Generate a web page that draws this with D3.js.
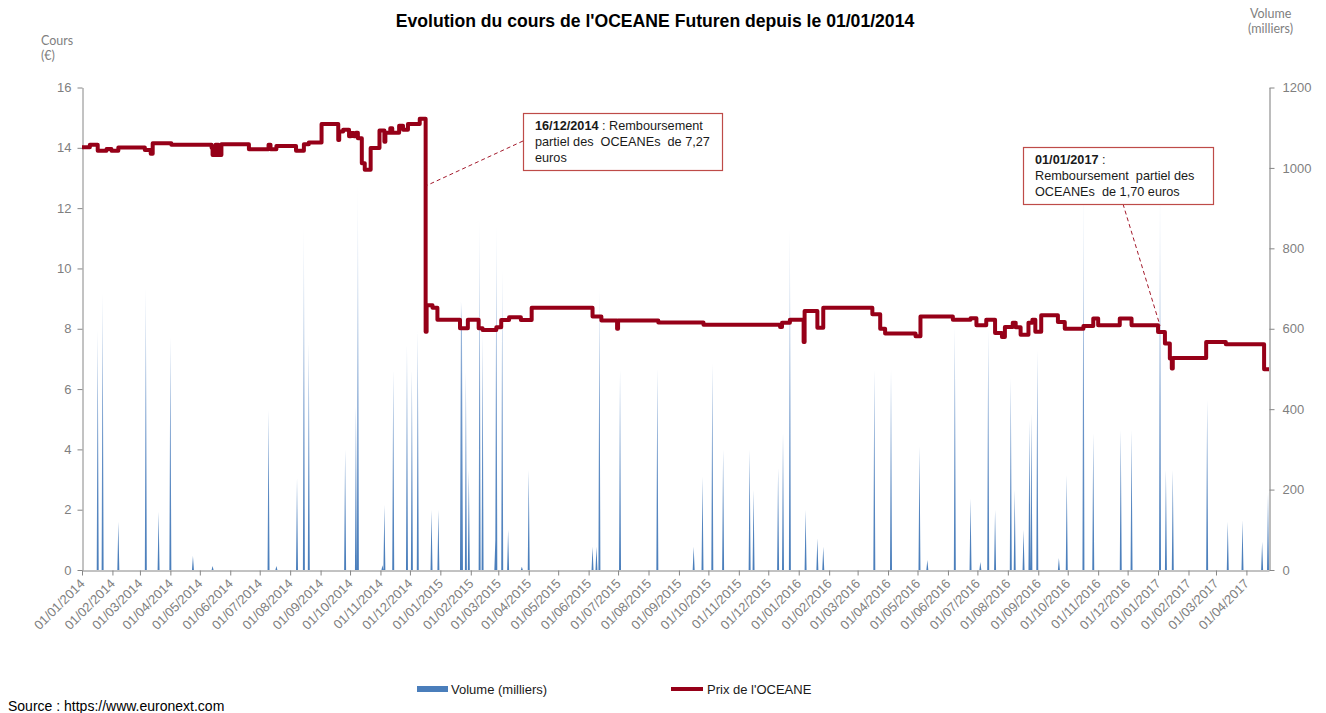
<!DOCTYPE html>
<html>
<head>
<meta charset="utf-8">
<script src="https://cdn.jsdelivr.net/npm/d3@7"></script>
<style>
  body { margin: 0; background: #fff; }
  svg { display: block; font-family: "Liberation Sans", Arial, sans-serif; }
</style>
</head>
<body>
<script>
// cours de l'OCEANE (€), valeur prise à chaque changement de palier
const prix = [
  ["2014-01-01", 14.02], ["2014-01-09", 14.1], ["2014-01-17", 13.9], ["2014-01-26", 13.96],
  ["2014-01-31", 13.9], ["2014-02-07", 14.01], ["2014-03-06", 13.93], ["2014-03-12", 13.8],
  ["2014-03-14", 14.15], ["2014-04-02", 14.1], ["2014-05-13", 14.0], ["2014-05-14", 13.76],
  ["2014-05-17", 14.1], ["2014-05-20", 13.76], ["2014-05-23", 14.12], ["2014-06-20", 13.95],
  ["2014-07-10", 14.1], ["2014-07-12", 13.95], ["2014-07-18", 14.06], ["2014-08-07", 13.9],
  ["2014-08-15", 14.12], ["2014-08-20", 14.18], ["2014-09-02", 14.79], ["2014-09-19", 14.26],
  ["2014-09-20", 14.54], ["2014-09-24", 14.6], ["2014-09-30", 14.38], ["2014-10-02", 14.49],
  ["2014-10-05", 14.38], ["2014-10-07", 14.5], ["2014-10-09", 14.32], ["2014-10-13", 13.49],
  ["2014-10-16", 13.27], ["2014-10-22", 13.99], ["2014-10-31", 14.57], ["2014-11-05", 14.2],
  ["2014-11-06", 14.5], ["2014-11-11", 14.65], ["2014-11-13", 14.5], ["2014-11-20", 14.73],
  ["2014-11-24", 14.6], ["2014-11-29", 14.79], ["2014-12-11", 14.96], ["2014-12-17", 7.9],
  ["2014-12-18", 8.78], ["2014-12-24", 8.7], ["2014-12-29", 8.3], ["2015-01-21", 8.02],
  ["2015-01-29", 8.3], ["2015-02-09", 8.02], ["2015-02-13", 7.96], ["2015-02-27", 8.05],
  ["2015-03-04", 8.29], ["2015-03-12", 8.38], ["2015-03-24", 8.29], ["2015-04-04", 8.7],
  ["2015-06-05", 8.41], ["2015-06-14", 8.27], ["2015-06-30", 8.0], ["2015-07-01", 8.27],
  ["2015-08-11", 8.21], ["2015-09-26", 8.13], ["2015-12-13", 8.06], ["2015-12-15", 8.2],
  ["2015-12-23", 8.3], ["2016-01-06", 7.56], ["2016-01-07", 8.59], ["2016-01-20", 8.03],
  ["2016-01-26", 8.7], ["2016-03-16", 8.48], ["2016-03-24", 8.0], ["2016-03-29", 7.84],
  ["2016-04-29", 7.75], ["2016-05-04", 8.41], ["2016-06-06", 8.3], ["2016-06-24", 8.35],
  ["2016-06-30", 8.12], ["2016-07-10", 8.3], ["2016-07-19", 7.86], ["2016-07-26", 7.73],
  ["2016-07-29", 8.06], ["2016-08-06", 8.2], ["2016-08-09", 8.05], ["2016-08-14", 7.8],
  ["2016-08-22", 8.2], ["2016-08-26", 8.3], ["2016-08-29", 7.9], ["2016-09-04", 8.45],
  ["2016-09-21", 8.22], ["2016-09-28", 8.0], ["2016-10-17", 8.09], ["2016-10-27", 8.34],
  ["2016-11-01", 8.12], ["2016-11-23", 8.34], ["2016-12-05", 8.12], ["2017-01-01", 7.89],
  ["2017-01-08", 7.51], ["2017-01-13", 7.01], ["2017-01-15", 6.68], ["2017-01-16", 7.03],
  ["2017-02-19", 7.56], ["2017-03-11", 7.49], ["2017-04-19", 6.66], ["2017-04-24", 6.66]
];

// volume échangé (milliers), jours avec transactions
const volume = [
  ["2014-01-17", 597], ["2014-01-22", 688], ["2014-02-07", 120], ["2014-03-07", 701],
  ["2014-03-20", 145], ["2014-04-01", 580], ["2014-04-24", 35], ["2014-05-14", 10],
  ["2014-07-10", 398], ["2014-07-18", 10], ["2014-08-08", 228], ["2014-08-15", 854],
  ["2014-08-20", 568], ["2014-09-26", 299], ["2014-10-07", 406], ["2014-10-09", 970],
  ["2014-11-03", 12], ["2014-11-05", 162], ["2014-11-14", 498], ["2014-11-28", 560],
  ["2014-12-03", 498], ["2014-12-09", 597], ["2014-12-23", 149], ["2014-12-30", 149],
  ["2015-01-22", 668], ["2015-01-23", 600], ["2015-01-27", 493], ["2015-01-30", 249],
  ["2015-02-10", 875], ["2015-02-13", 589], ["2015-02-26", 75], ["2015-02-27", 858],
  ["2015-03-05", 746], ["2015-03-11", 100], ["2015-03-25", 8], ["2015-04-01", 249],
  ["2015-06-05", 58], ["2015-06-09", 58], ["2015-06-12", 697], ["2015-07-03", 498],
  ["2015-08-10", 502], ["2015-09-16", 58], ["2015-09-25", 232], ["2015-10-05", 514],
  ["2015-10-16", 299], ["2015-11-12", 299], ["2015-11-16", 199], ["2015-12-11", 253],
  ["2015-12-16", 340], ["2015-12-23", 850], ["2016-01-08", 149], ["2016-01-20", 79],
  ["2016-01-26", 58], ["2016-03-18", 498], ["2016-04-04", 498], ["2016-05-03", 307],
  ["2016-05-11", 25], ["2016-06-08", 605], ["2016-06-24", 178], ["2016-07-04", 20],
  ["2016-07-12", 597], ["2016-07-19", 149], ["2016-08-04", 477], ["2016-08-08", 199],
  ["2016-08-17", 100], ["2016-08-23", 373], ["2016-08-25", 390], ["2016-08-31", 547],
  ["2016-09-22", 30], ["2016-09-30", 236], ["2016-10-17", 975], ["2016-10-27", 340],
  ["2016-11-24", 348], ["2016-12-05", 348], ["2017-01-03", 983], ["2017-01-09", 249],
  ["2017-01-16", 249], ["2017-02-20", 423], ["2017-03-13", 120], ["2017-03-28", 124],
  ["2017-04-17", 70], ["2017-04-23", 192]
];

const coursTicks = [0, 2, 4, 6, 8, 10, 12, 14, 16];
const volTicks = [0, 200, 400, 600, 800, 1000, 1200];
const debut = "2014-01-01", fin = "2017-04-24";

const notes = [
  { date: "2014-12-16", cours: 12.75, gras: "16/12/2014", lignes: [" : Remboursement", "partiel des  OCEANEs  de 7,27", "euros"],
    box: [523, 113, 199, 57], ancre: [523, 141] },
  { date: "2017-01-01", cours: 8.1, gras: "01/01/2017", lignes: [" :", "Remboursement  partiel des", "OCEANEs  de 1,70 euros"],
    box: [1023, 147, 190, 57], ancre: [1123, 204] }
];

const parse = d3.timeParse("%Y-%m-%d");
const fmt = d3.timeFormat("%d/%m/%Y");
const rouge = "#960018", bleu = "#4a7ebb", gris = "#868686", texteGris = "#7f7f7f";

const svg = d3.select("body").append("svg")
  .attr("width", 1326).attr("height", 713);

const x = d3.scaleTime().domain([parse(debut), parse(fin)]).range([82, 1269]);
const yL = d3.scaleLinear().domain([0, 16]).range([570, 87.5]);
const yR = d3.scaleLinear().domain([0, 1200]).range([570, 87.5]);

// dégradé des volumes
const grad = svg.append("defs").append("linearGradient")
  .attr("id", "gv").attr("gradientUnits", "userSpaceOnUse")
  .attr("x1", 0).attr("y1", yR(0)).attr("x2", 0).attr("y2", yR(1200));
grad.append("stop").attr("offset", 0).attr("stop-color", bleu);
grad.append("stop").attr("offset", 0.35).attr("stop-color", "#6e97cb");
grad.append("stop").attr("offset", 0.85).attr("stop-color", "#ffffff");

// série quotidienne (0 les jours sans échange)
const volMap = new Map(volume.map(d => [d[0], d[1]]));
const jours = d3.timeDay.range(parse(debut), d3.timeDay.offset(parse(fin), 1));
const volJour = jours.map(d => ({ date: d, v: volMap.get(d3.timeFormat("%Y-%m-%d")(d)) || 0 }));

svg.append("path")
  .datum(volJour)
  .attr("fill", "url(#gv)")
  .attr("d", d3.area().x(d => x(d.date)).y0(yR(0)).y1(d => yR(d.v)));

// axes
const axG = svg.append("g").attr("transform", "translate(82.5,0)")
  .call(d3.axisLeft(yL).tickValues(coursTicks).tickSize(5).tickSizeOuter(0).tickPadding(6));
const axD = svg.append("g").attr("transform", "translate(1269.5,0)")
  .call(d3.axisRight(yR).tickValues(volTicks).tickFormat(d3.format("d"))
    .tickSize(5).tickSizeOuter(0).tickPadding(8));
const axB = svg.append("g").attr("transform", "translate(0,570.5)")
  .call(d3.axisBottom(x).tickValues(d3.timeMonth.range(parse(debut), parse(fin)))
    .tickFormat(fmt).tickSize(5).tickSizeOuter(0));

[axG, axD, axB].forEach(g => {
  g.select(".domain").attr("stroke", gris);
  g.selectAll(".tick line").attr("stroke", gris);
  g.selectAll("text").attr("fill", texteGris).attr("font-size", 13)
    .attr("font-family", "'Liberation Sans', Arial, sans-serif");
});
axD.select(".domain").attr("stroke", "#a6a6a6").attr("stroke-width", 1.5);
axB.selectAll("text")
  .attr("y", 0).attr("dy", null)
  .attr("text-anchor", "end")
  .attr("transform", "translate(3,14) rotate(-45)");

// ligne de prix
svg.append("path")
  .datum(prix)
  .attr("fill", "none")
  .attr("stroke", rouge)
  .attr("stroke-width", 4)
  .attr("stroke-linejoin", "round")
  .attr("d", d3.line().curve(d3.curveStepAfter).x(d => x(parse(d[0]))).y(d => yL(d[1])));

// annotations
notes.forEach(n => {
  svg.append("line")
    .attr("x1", n.ancre[0]).attr("y1", n.ancre[1])
    .attr("x2", x(parse(n.date)) + 2).attr("y2", yL(n.cours))
    .attr("stroke", "#a3192b").attr("stroke-width", 1).attr("stroke-dasharray", "4,3");
  svg.append("rect")
    .attr("x", n.box[0] + 0.5).attr("y", n.box[1] + 0.5)
    .attr("width", n.box[2]).attr("height", n.box[3])
    .attr("fill", "#fff").attr("stroke", "#be4b48").attr("stroke-width", 1.2);
  const t = svg.append("text")
    .attr("x", n.box[0] + 12).attr("y", n.box[1] + 17)
    .attr("font-size", 12.7).attr("fill", "#1a1a1a")
    .style("white-space", "pre");
  t.append("tspan").attr("font-weight", "bold").text(n.gras);
  t.append("tspan").text(n.lignes[0]);
  n.lignes.slice(1).forEach((l, i) => {
    t.append("tspan").attr("x", n.box[0] + 12).attr("dy", 16).text(l);
  });
});

// titres
svg.append("text")
  .attr("x", 655).attr("y", 27).attr("text-anchor", "middle")
  .attr("font-size", 17.6).attr("font-weight", "bold").attr("fill", "#000")
  .text("Evolution du cours de l'OCEANE Futuren depuis le 01/01/2014");

const lab = svg.append("g").attr("font-family", "Lato, 'Open Sans', sans-serif")
  .attr("font-size", 12.5).attr("fill", texteGris);
lab.append("text").attr("x", 41).attr("y", 45).text("Cours");
lab.append("text").attr("x", 41).attr("y", 60).text("(€)");
lab.append("text").attr("x", 1250).attr("y", 18).text("Volume");
lab.append("text").attr("x", 1248).attr("y", 33).text("(milliers)");

// légende
const leg = svg.append("g").attr("font-size", 13).attr("fill", "#1a1a1a");
leg.append("rect").attr("x", 417).attr("y", 686).attr("width", 31).attr("height", 6).attr("fill", bleu);
leg.append("text").attr("x", 451).attr("y", 694).text("Volume (milliers)");
leg.append("line").attr("x1", 671).attr("x2", 703).attr("y1", 689).attr("y2", 689)
  .attr("stroke", rouge).attr("stroke-width", 4);
leg.append("text").attr("x", 707).attr("y", 694).text("Prix de l'OCEANE");

svg.append("text").attr("x", 8).attr("y", 711)
  .attr("font-size", 14).attr("fill", "#000")
  .text("Source : https://www.euronext.com");
</script>
</body>
</html>
